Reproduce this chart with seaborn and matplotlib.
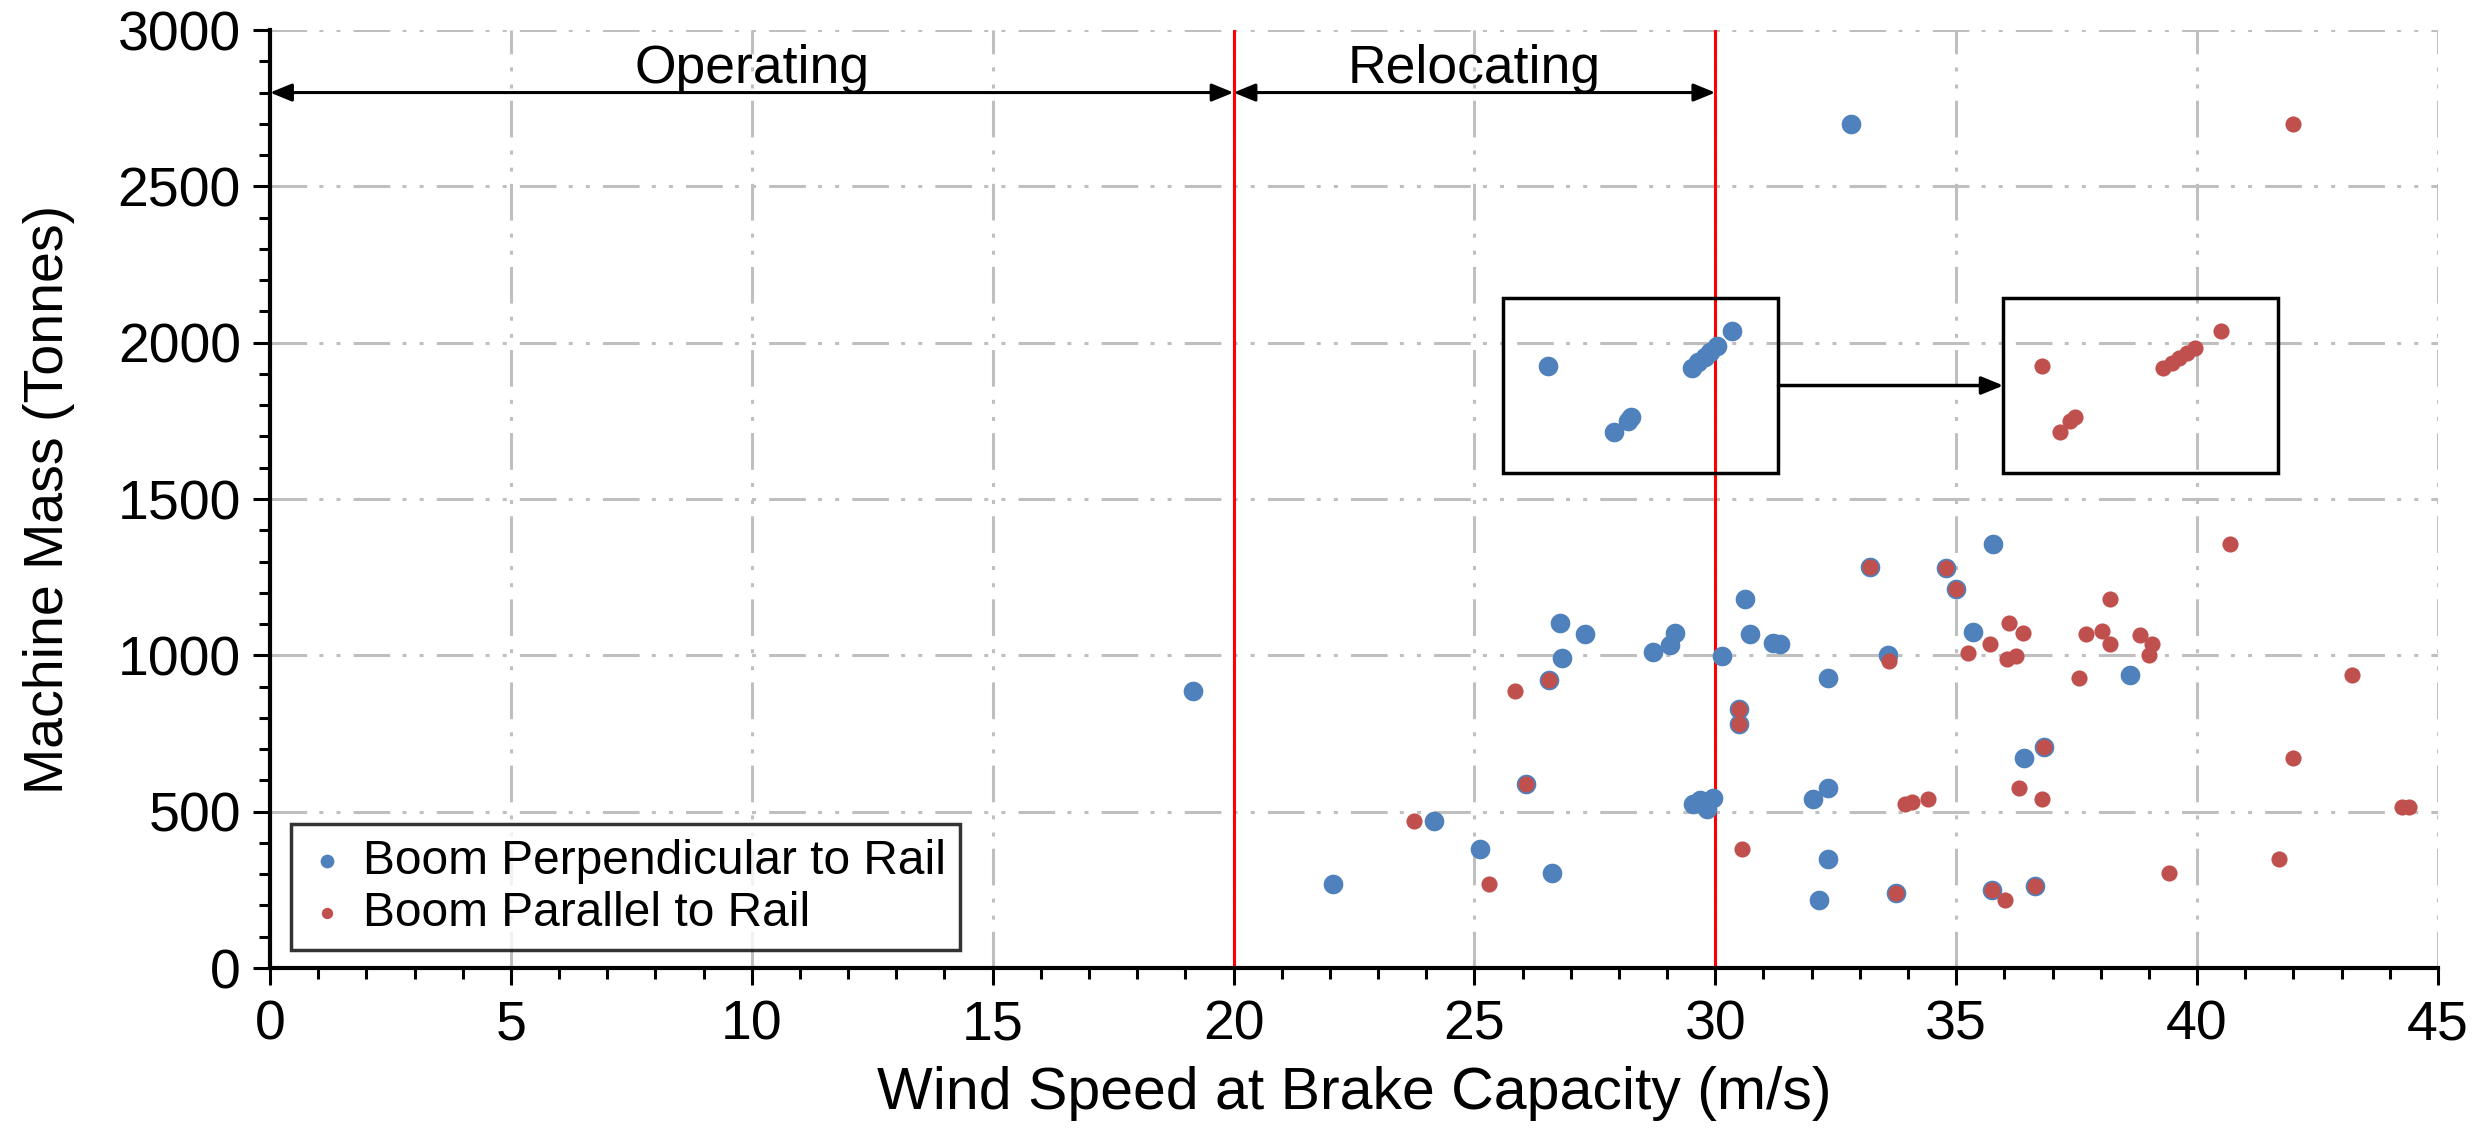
import matplotlib.pyplot as plt
import pandas as pd
import seaborn as sns
from matplotlib.patches import Rectangle
from matplotlib.ticker import MultipleLocator

# Wind speed at brake capacity (m/s) and machine mass (t)
perp_speed = [19.15, 22.07, 24.17, 25.11, 26.08, 26.55, 26.61, 26.77, 26.82, 27.29,
              28.70, 29.07, 29.16, 29.54, 29.68, 29.83, 29.95, 30.14, 30.50, 30.50,
              30.61, 30.73, 31.20, 31.35, 32.03, 32.16, 32.33, 32.34, 32.34, 32.82,
              33.22, 33.59, 33.75, 34.78, 35.00, 35.34, 35.75, 35.76, 36.41, 36.63,
              36.82, 38.60,
              26.53, 27.90, 28.19, 28.26, 29.51, 29.65, 29.78, 29.90, 30.03, 30.35]
perp_mass = [885, 269, 471, 381, 587, 921, 304, 1103, 990, 1068,
             1010, 1034, 1071, 526, 536, 510, 544, 998, 828, 779,
             1181, 1068, 1040, 1036, 542, 217, 928, 577, 349, 2700,
             1284, 1001, 240, 1279, 1211, 1076, 251, 1356, 673, 263,
             706, 936,
             1926, 1714, 1751, 1762, 1919, 1937, 1953, 1970, 1989, 2036]

par_speed = [23.74, 25.30, 25.85, 26.08, 26.55, 30.50, 30.50, 30.55, 33.22, 33.61,
             33.75, 33.94, 34.09, 34.41, 34.78, 35.00, 35.25, 35.70, 35.75, 36.02,
             36.06, 36.09, 36.25, 36.30, 36.39, 36.63, 36.79, 36.82, 37.55, 37.69,
             38.03, 38.20, 38.20, 38.81, 39.00, 39.06, 39.41, 40.69, 41.71, 42.00,
             42.00, 43.21, 44.25, 44.40,
             36.79, 37.15, 37.37, 37.47, 39.30, 39.47, 39.63, 39.80, 39.96, 40.49]
par_mass = [471, 269, 886, 587, 921, 828, 779, 381, 1284, 983,
            240, 526, 531, 542, 1279, 1211, 1008, 1035, 251, 217,
            987, 1103, 998, 577, 1071, 263, 542, 706, 928, 1068,
            1077, 1181, 1036, 1066, 1000, 1036, 304, 1355, 349, 673,
            2700, 936, 515, 515,
            1926, 1714, 1751, 1762, 1919, 1935, 1951, 1967, 1983, 2036]

labels = ['Boom Perpendicular to Rail', 'Boom Parallel to Rail']
colors = ['#4F81BD', '#C0504D']

df_perp = pd.DataFrame({'speed': perp_speed, 'mass': perp_mass})
df_par = pd.DataFrame({'speed': par_speed, 'mass': par_mass})

sns.set_theme(style='white')
plt.rcParams['font.family'] = ['Liberation Sans', 'DejaVu Sans']
plt.rcParams['text.color'] = 'black'
plt.rcParams['axes.labelcolor'] = 'black'

fig = plt.figure(figsize=(24.91, 11.29), dpi=100)
ax = fig.add_axes([0.1084, 0.1426, 0.8703, 0.8308])

sns.scatterplot(data=df_perp, x='speed', y='mass', ax=ax, color=colors[0],
                s=200, linewidth=0, label=labels[0], zorder=3)
sns.scatterplot(data=df_par, x='speed', y='mass', ax=ax, color=colors[1],
                s=135, linewidth=0, label=labels[1], zorder=4)

ax.set_xlim(0, 45)
ax.set_ylim(0, 3000)
ax.xaxis.set_major_locator(MultipleLocator(5))
ax.xaxis.set_minor_locator(MultipleLocator(1))
ax.yaxis.set_major_locator(MultipleLocator(500))
ax.yaxis.set_minor_locator(MultipleLocator(100))

# grid: dash-dot-dot grey like the office chart
grid_ls = (0, (12, 4, 1.3, 4.3, 1.3, 4.3))
ax.grid(True, which='major', color='#BFBFBF', linewidth=2.2, linestyle=grid_ls, zorder=0)
ax.set_axisbelow(True)

for side in ['top', 'right']:
    ax.spines[side].set_visible(False)
for side in ['left', 'bottom']:
    ax.spines[side].set_linewidth(3)
    ax.spines[side].set_color('black')
    ax.spines[side].set_zorder(5)

ax.tick_params(which='major', direction='out', length=12, width=2.2, colors='black',
               labelsize=40, left=True, bottom=True)
ax.tick_params(which='minor', direction='out', length=8, width=2.2, colors='black',
               left=True, bottom=True)
ax.tick_params(axis='x', which='major', pad=11)
ax.tick_params(axis='y', which='major', pad=9)

ax.set_xlabel('Wind Speed at Brake Capacity (m/s)', fontsize=42.5)
ax.set_ylabel('Machine Mass (Tonnes)', fontsize=40)
ax.xaxis.set_label_coords(0.5, -0.104)
ax.yaxis.set_label_coords(-0.09, 0.5)

# operating / relocating limits
for xv in [20, 30]:
    ax.axvline(xv, color='#FF0000', linewidth=2.2, zorder=2)

arrow_kw = dict(arrowstyle='<|-|>,head_length=1.1,head_width=0.45', color='black',
                linewidth=2.2, shrinkA=0, shrinkB=0)
ax.annotate('', xy=(0, 2800), xytext=(20, 2800), arrowprops=arrow_kw, zorder=6)
ax.annotate('', xy=(20, 2800), xytext=(30, 2800), arrowprops=arrow_kw, zorder=6)
ax.text(10, 2830, 'Operating', ha='center', va='baseline', fontsize=38.5)
ax.text(25, 2830, 'Relocating', ha='center', va='baseline', fontsize=38.5)

# boxes around the clusters and arrow between them
ax.add_patch(Rectangle((25.60, 1582), 5.71, 561, fill=False, edgecolor='black',
                       linewidth=2.5, zorder=6))
ax.add_patch(Rectangle((35.98, 1582), 5.70, 561, fill=False, edgecolor='black',
                       linewidth=2.5, zorder=6))
ax.annotate('', xy=(35.98, 1863), xytext=(31.31, 1863),
            arrowprops=dict(arrowstyle='-|>,head_length=1.1,head_width=0.45',
                            color='black', linewidth=2.5, shrinkA=0, shrinkB=0),
            zorder=6)

leg = ax.legend(loc='lower left', bbox_to_anchor=(0.0097, 0.019), borderaxespad=0,
                fontsize=34.5, frameon=True, fancybox=False, markerscale=0.7,
                handletextpad=0.3, labelspacing=0.15, borderpad=0.3,
                handlelength=0.9)
leg.get_frame().set_edgecolor('black')
leg.get_frame().set_linewidth(2.5)
leg.set_zorder(7)

fig.savefig('out.png', dpi=100)
